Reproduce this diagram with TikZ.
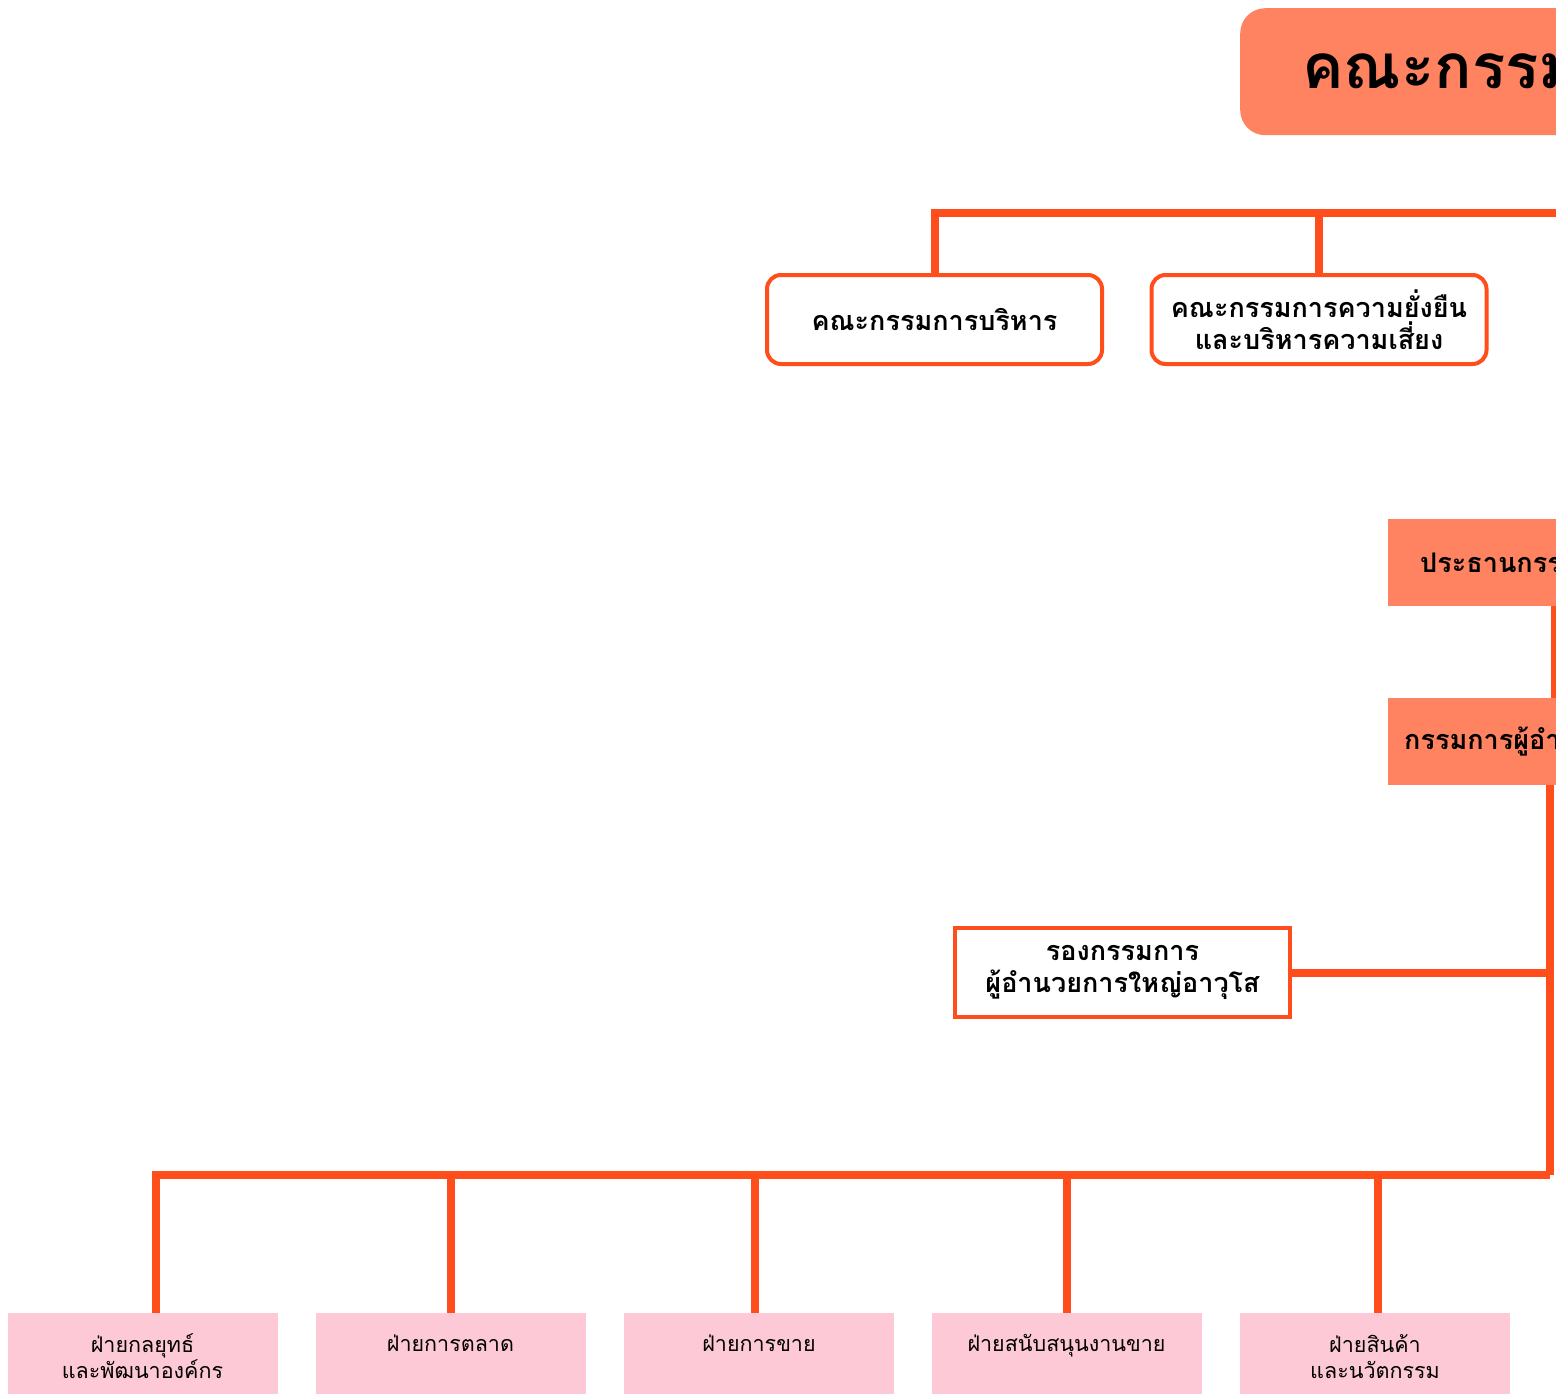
\documentclass[tikz,border=0pt]{standalone}
\usepackage{fontspec}
\newfontfamily\thaifont[Script=Thai]{Loma}
\definecolor{boardorange}{HTML}{FF8360}
\definecolor{lineorange}{HTML}{FF4D1C}
\definecolor{deptpink}{HTML}{FDC9D6}

\tikzset{
  link/.style={draw=lineorange, line width=8pt},
  headbox/.style={fill=boardorange, anchor=north west, align=left, inner ysep=0pt,
    font=\thaifont\bfseries\fontsize{27}{32}\selectfont},
  committee/.style={draw=lineorange, line width=4pt, fill=white, rounded corners=14pt,
    minimum width=335pt, minimum height=89pt, align=center,
    font=\thaifont\bfseries\fontsize{27}{32}\selectfont},
  vicebox/.style={draw=lineorange, line width=4pt, fill=white,
    minimum width=335pt, minimum height=89pt, align=center,
    font=\thaifont\bfseries\fontsize{27}{32}\selectfont},
  deptbox/.style={fill=deptpink, anchor=north, minimum width=270pt, minimum height=86pt,
    align=center, font=\thaifont\fontsize{21.5}{26}\selectfont}
}

\begin{document}
\begin{tikzpicture}[x=1pt,y=-1pt]
\useasboundingbox (0,0) rectangle (1556,1394);
\clip (0,0) rectangle (1556,1394);

% top of the chart, cut at the right edge
\node[headbox, rounded corners=25pt, text width=420pt, inner xsep=62pt, minimum height=127pt,
  font=\thaifont\bfseries\fontsize{62}{66}\selectfont] (board) at (1240,8) {คณะกรรม};
\node[headbox, text width=300pt, inner xsep=32pt, minimum height=87pt] (chair) at (1388,519) {ประธานกรรม};
\node[headbox, text width=300pt, inner xsep=16pt, minimum height=87pt] (ceo) at (1388,698) {กรรมการผู้อำ};

% committees
\node[committee] (exec) at (934.5,319.5) {คณะกรรมการบริหาร};
\node[committee] (sust) at (1319,319.5) {คณะกรรมการความยั่งยืน\\และบริหารความเสี่ยง};

% vice president
\node[vicebox] (vice) at (1122.5,972.5) {รองกรรมการ\\ผู้อำนวยการใหญ่อาวุโส};

% departments
\node[deptbox] (strat) at (142.5,1313) {ฝ่ายกลยุทธ์\\และพัฒนาองค์กร};
\node[deptbox] (mkt) at (450.5,1313) {ฝ่ายการตลาด\\\mbox{}};
\node[deptbox] (sales) at (759,1313) {ฝ่ายการขาย\\\mbox{}};
\node[deptbox] (support) at (1066.5,1313) {ฝ่ายสนับสนุนงานขาย\\\mbox{}};
\node[deptbox] (product) at (1375,1313) {ฝ่ายสินค้า\\และนวัตกรรม};

% trunk
\coordinate (trunkA) at (1560,0);
\coordinate (trunkB) at (1555,0);
\coordinate (trunkC) at (1550,0);
\coordinate (topjoin) at (1560,213);
\coordinate (botjoin) at (1550,1175);
\draw[link] (board.south -| trunkA) -- (chair.north -| trunkA);
\draw[link] (chair.south -| trunkB) -- (ceo.north -| trunkB);
\draw[link] (ceo.south -| trunkC) -- (botjoin);

% committees hang from the top line
\draw[link] (exec.north) |- (topjoin);
\draw[link] (sust.north) -- (sust.north |- topjoin);

% vice president off the trunk
\draw[link] (vice.east) -- (vice.east -| trunkC);

% departments hang from the bottom line
\draw[link] (strat.north -| 156,0) |- (botjoin);
\draw[link] (mkt.north) -- (mkt.north |- botjoin);
\draw[link] (sales.north -| 755,0) -- (755,1175);
\draw[link] (support.north) -- (support.north |- botjoin);
\draw[link] (product.north -| 1378,0) -- (1378,1175);
\end{tikzpicture}
\end{document}
